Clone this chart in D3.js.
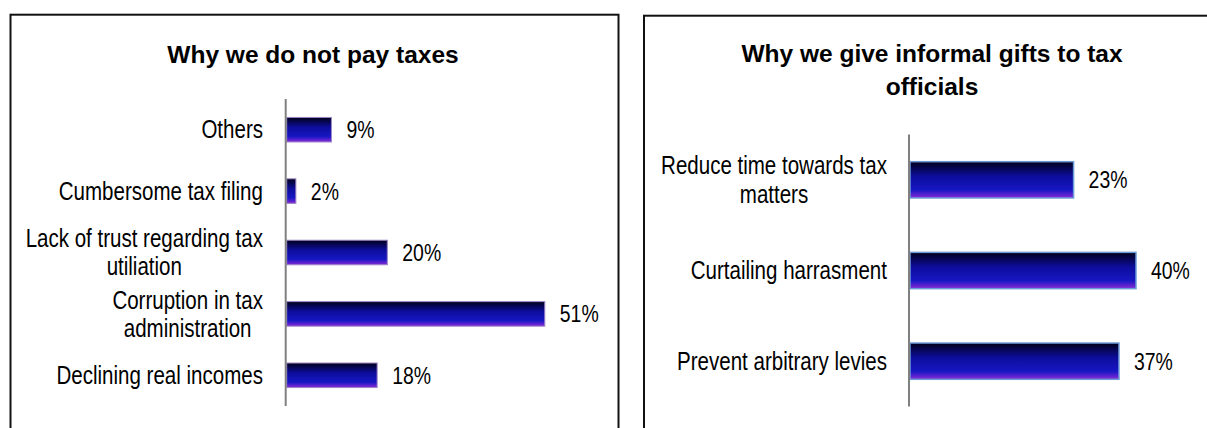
<!DOCTYPE html>
<html>
<head>
<meta charset="utf-8">
<script src="https://cdn.jsdelivr.net/npm/d3@7"></script>
<style>
  html, body { margin: 0; padding: 0; background: #fff; }
  svg { display: block; }
  .title { font-family: "Liberation Sans", Arial, sans-serif; font-weight: bold; fill: #000; }
  .lbl { font-family: "Liberation Sans", Arial, sans-serif; fill: #000; }
</style>
</head>
<body>
<svg id="chart" width="1207" height="428"></svg>
<script>
// ---------- data ----------
const leftTitle = ["Why we do not pay taxes"];
const leftCategories = [
  "Others",
  "Cumbersome tax filing",
  "Lack of trust regarding tax\nutiliation",
  "Corruption in tax\nadministration",
  "Declining real incomes"
];
const leftValues = [9, 2, 20, 51, 18];
const leftValueLabels = ["9%", "2%", "20%", "51%", "18%"];

const rightTitle = ["Why we give informal gifts to tax", "officials"];
const rightCategories = [
  "Reduce time towards tax\nmatters",
  "Curtailing harrasment",
  "Prevent arbitrary levies"
];
// bar lengths as drawn in the picture (the first bar is drawn longer than its 23% label)
const rightValues = [29, 40, 37];
const rightValueLabels = ["23%", "40%", "37%"];

// ---------- drawing ----------
const svg = d3.select("#chart");
const defs = svg.append("defs");
const CAT_NARROW = 0.775; // condensed look of the reference labels
const VAL_NARROW = 0.81;

function makeGradient(id) {
  const g = defs.append("linearGradient").attr("id", id)
    .attr("x1", 0).attr("y1", 0).attr("x2", 0).attr("y2", 1);
  [["0%", "#00001a"], ["40%", "#0d0d9c"], ["78%", "#1717c4"], ["100%", "#8a2ad6"]]
    .forEach(([o, c]) => g.append("stop").attr("offset", o).attr("stop-color", c));
}
makeGradient("gradL");
makeGradient("gradR");

function panel(cfg) {
  const g = svg.append("g");
  g.append("rect")
    .attr("x", cfg.frame[0]).attr("y", cfg.frame[1])
    .attr("width", cfg.frame[2]).attr("height", cfg.frame[3])
    .attr("fill", "none").attr("stroke", "#111").attr("stroke-width", 2);

  const t = g.append("text").attr("class", "title")
    .attr("x", cfg.titleX).attr("y", cfg.titleY)
    .attr("text-anchor", "middle").style("font-size", "24.5px");
  cfg.title.forEach((line, i) => {
    t.append("tspan").attr("x", cfg.titleX).attr("dy", i === 0 ? 0 : 33).text(line);
  });

  const y = d3.scaleBand().domain(cfg.categories).range(cfg.yRange)
    .paddingInner(0.6).paddingOuter(0.3);
  const x = d3.scaleLinear().domain(cfg.xDomain).range(cfg.xRange);

  g.selectAll("rect.bar").data(cfg.categories).enter().append("rect")
    .attr("class", "bar")
    .attr("x", x(0) + 1)
    .attr("y", d => y(d))
    .attr("width", (d, i) => x(cfg.values[i]) - x(0) - 1)
    .attr("height", y.bandwidth())
    .attr("fill", `url(#${cfg.grad})`)
    .attr("stroke", cfg.barStroke).attr("stroke-width", cfg.barStrokeW);

  const axis = d3.axisLeft(y).tickSize(0).tickFormat("");
  const ag = g.append("g").attr("transform", `translate(${x(0)},0)`).call(axis);
  ag.select(".domain").attr("stroke", "#808080").attr("stroke-width", 2)
    .attr("d", `M0,${cfg.yRange[0]}V${cfg.yRange[1]}`);

  // category labels (lines centred within a right-aligned block)
  cfg.categories.forEach(c => {
    const lines = c.split("\n");
    const cy = y(c) + y.bandwidth() / 2;
    const lh = 28.3;
    const first = cy + 8.8 - (lines.length - 1) * lh / 2;
    const tx = g.append("text").attr("class", "lbl")
      .attr("text-anchor", "middle").style("font-size", "26.5px");
    lines.forEach((ln, i) => {
      tx.append("tspan").attr("x", 0).attr("y", first + i * lh).text(ln);
    });
    let maxW = 0;
    tx.selectAll("tspan").each(function () { maxW = Math.max(maxW, this.getComputedTextLength()); });
    const cxText = cfg.labelRight - maxW * CAT_NARROW / 2;
    tx.attr("transform", `translate(${cxText},0) scale(${CAT_NARROW},1)`);
  });

  // value labels
  cfg.categories.forEach((c, i) => {
    g.append("text").attr("class", "lbl val")
      .attr("transform", `translate(${x(cfg.values[i]) + 15},${y(c) + y.bandwidth() / 2 + 8.5}) scale(${VAL_NARROW},1)`)
      .style("font-size", "24px")
      .text(cfg.valueLabels[i]);
  });
}

panel({
  frame: [10.5, 14.7, 608, 440],
  title: leftTitle, titleX: 313, titleY: 63,
  categories: leftCategories, values: leftValues, valueLabels: leftValueLabels,
  yRange: [99, 406], xDomain: [0, 60], xRange: [285.7, 285.7 + 60 * 5.08],
  labelRight: 263, grad: "gradL", barStroke: "#9d86c6", barStrokeW: 1
});

panel({
  frame: [644, 15.7, 600, 440],
  title: rightTitle, titleX: 932, titleY: 62,
  categories: rightCategories, values: rightValues, valueLabels: rightValueLabels,
  yRange: [134.5, 406.5], xDomain: [0, 50], xRange: [909, 909 + 50 * 5.675],
  labelRight: 887, grad: "gradR", barStroke: "#6a9ad8", barStrokeW: 1.5
});
</script>
</body>
</html>
